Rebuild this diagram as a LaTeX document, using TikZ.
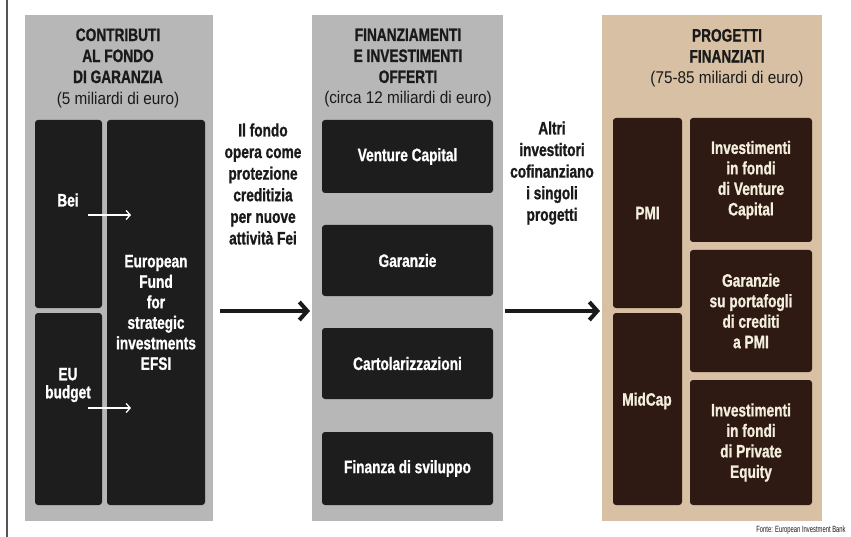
\documentclass[tikz,border=0pt]{standalone}
\usepackage{fontspec}
\setmainfont{Liberation Sans}[FakeStretch=0.76, BoldFeatures={FakeBold=1}]
\newfontfamily\regfont{Liberation Sans}[FakeStretch=0.9]
\newfontfamily\srcfont{Liberation Sans}[FakeStretch=0.65]
\usetikzlibrary{arrows.meta}
\definecolor{panelgray}{HTML}{B7B7B7}
\definecolor{darkbox}{HTML}{1D1D1D}
\definecolor{beige}{HTML}{D7C0A4}
\definecolor{brownbox}{HTML}{2E1A13}
\definecolor{creamtext}{HTML}{F4EEDD}
\definecolor{inktext}{HTML}{1A1A1A}
\definecolor{rulegray}{HTML}{555555}
\begin{document}
\begin{tikzpicture}[x=1pt,y=-1pt,
  panelbox/.style={fill=#1, inner sep=0pt, outer sep=0pt, anchor=north west},
  cellbox/.style={fill=#1, rounded corners=3pt, inner sep=0pt, outer sep=0pt, anchor=north west,
    text=white, align=center, font=\bfseries\fontsize{18}{20.5}\selectfont},
  headtext/.style={text=inktext, align=center, font=\bfseries\fontsize{18}{21}\selectfont},
  celltext/.style={text=white, align=center, font=\bfseries\fontsize{18}{18}\selectfont},
  sidetext/.style={text=inktext, align=center, font=\bfseries\fontsize{18}{21.6}\selectfont},
  bigarrow/.style={draw=inktext, line width=4pt, -{Straight Barb[length=8pt,width=18pt]}},
  smallarrow/.style={draw=white, line width=1.3pt, -{Straight Barb[length=4pt,width=9pt]}}
]
\useasboundingbox[fill=white] (0,0) rectangle (851,537);
\draw[rulegray, line width=1.5pt] (7,0) -- (7,537);

% panels
\node[panelbox=panelgray, minimum width=188pt, minimum height=506pt] (lp) at (25,15) {};
\node[panelbox=panelgray, minimum width=191pt, minimum height=506pt] (mp) at (312,15) {};
\node[panelbox=beige, minimum width=220pt, minimum height=506pt] (rp) at (602,15) {};

% headers
\node[headtext] (lh) at (118,68) {CONTRIBUTI\\AL FONDO\\DI GARANZIA\\{\regfont\mdseries\fontsize{17}{21}\selectfont (5 miliardi di euro)}};
\node[headtext] (mh) at (408,68) {FINANZIAMENTI\\E INVESTIMENTI\\OFFERTI\\{\regfont\mdseries\fontsize{17}{21}\selectfont (circa 12 miliardi di euro)}};
\node[headtext] (rh) at (727,58) {PROGETTI\\FINANZIATI\\{\regfont\mdseries\fontsize{17}{21}\selectfont (75-85 miliardi di euro)}};

% left cells
\node[cellbox=darkbox, minimum width=67pt, minimum height=188pt] (bei) at (35,120) {};
\node[cellbox=darkbox, minimum width=67pt, minimum height=192pt] (eub) at (35,313) {};
\node[cellbox=darkbox, minimum width=98pt, minimum height=385pt] (efsi) at (107,120)
  {European\\Fund\\for\\strategic\\investments\\EFSI};
\node[celltext] (beitxt) at (68,200) {Bei};
\node[celltext] (eutxt) at (68,385) {EU\\budget};
\coordinate (beiA) at (88,215);
\coordinate (beiB) at (131,215);
\coordinate (euA) at (88,408);
\coordinate (euB) at (131,408);
\draw[smallarrow] (beiA) -- (beiB);
\draw[smallarrow] (euA) -- (euB);

% middle cells
\node[cellbox=darkbox, minimum width=171pt, minimum height=73pt] (vc) at (322,120) {Venture Capital};
\node[cellbox=darkbox, minimum width=171pt, minimum height=71pt] (gar) at (322,225) {Garanzie};
\node[cellbox=darkbox, minimum width=171pt, minimum height=71pt] (cart) at (322,328) {Cartolarizzazioni};
\node[cellbox=darkbox, minimum width=171pt, minimum height=73pt] (fin) at (322,432) {Finanza di sviluppo};

% right cells
\node[cellbox=brownbox, text=creamtext, minimum width=69pt, minimum height=190pt] (pmi) at (613,118) {PMI};
\node[cellbox=brownbox, minimum width=69pt, minimum height=192pt] (mid) at (613,313) {};
\node[celltext, text=creamtext] (midtxt) at (647,401) {MidCap};
\node[cellbox=brownbox, text=creamtext, minimum width=122pt, minimum height=124pt] (r1) at (690,118)
  {Investimenti\\in fondi\\di Venture\\Capital};
\node[cellbox=brownbox, text=creamtext, minimum width=122pt, minimum height=122pt] (r2) at (690,250)
  {Garanzie\\su portafogli\\di crediti\\a PMI};
\node[cellbox=brownbox, text=creamtext, minimum width=122pt, minimum height=125pt] (r3) at (690,380)
  {Investimenti\\in fondi\\di Private\\Equity};

% side texts
\node[sidetext] (s1) at (263,184) {Il fondo\\opera come\\protezione\\creditizia\\per nuove\\attività Fei};
\node[sidetext] (s2) at (552,173) {Altri\\investitori\\cofinanziano\\i singoli\\progetti};

% big arrows
\coordinate (a1s) at (220,311);
\coordinate (a1e) at (310,311);
\coordinate (a2s) at (505,311);
\coordinate (a2e) at (600,311);
\draw[bigarrow] (a1s) -- (a1e);
\draw[bigarrow] (a2s) -- (a2e);

% source
\node[text=inktext, font=\srcfont\fontsize{9}{10}\selectfont] (src) at (801,530) {Fonte: European Investment Bank};
\end{tikzpicture}
\end{document}
